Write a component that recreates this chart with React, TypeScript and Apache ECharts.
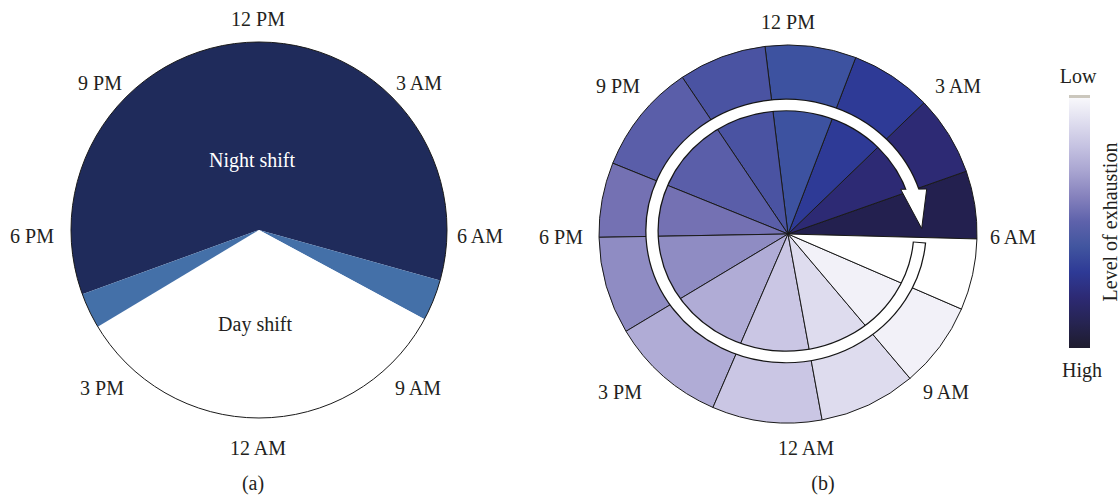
import React, { useEffect, useRef } from "react";
import * as echarts from "echarts";

// ---- Panel (a): shift pie (hours of a 24 h day) ----
const shiftNames = ["Night shift", "Transition (morning)", "Day shift", "Transition (evening)"];
const shiftHours = [14.37, 0.85, 8.05, 0.73];
const shiftColors = ["#1f2b5b", "#4470a8", "#ffffff", "#4470a8"];

// ---- Panel (b): exhaustion level sectors (angular span in degrees) ----
const sectorNames = ["S1", "S2", "S3", "S4", "S5", "S6", "S7", "S8", "S9", "S10", "S11", "S12", "S13"];
const sectorSpans = [20.9, 24.6, 25, 28, 27, 34, 23, 30, 35.6, 33.8, 29.8, 26.4, 21.9];
const sectorColors = [
  "#23204f", "#2d2a74", "#2e3a96", "#3d52a0", "#4a53a2", "#5a5ea9", "#7471b3",
  "#8f8cc3", "#b0acd6", "#cac6e4", "#dedcee", "#f2f1f8", "#ffffff",
];

// ---- Clock labels ----
const clockLabels = ["12 PM", "3 AM", "6 AM", "9 AM", "12 AM", "3 PM", "6 PM", "9 PM"];
const labelPosA: [number, number][] = [
  [258, 19], [419, 83], [480, 236], [418, 388], [258, 448], [102, 388], [32, 236], [100, 83],
];
const labelPosB: [number, number][] = [
  [788, 22], [958, 86], [1013, 237], [946, 392], [806, 448], [620, 392], [561, 237], [618, 86],
];

const legendStops = [
  [0, "#fbfbfd"], [0.08, "#e6e5f2"], [0.2, "#c6c3e2"], [0.3, "#a9a5d1"], [0.4, "#8682bd"],
  [0.5, "#5e62ab"], [0.6, "#41559f"], [0.7, "#2e3a96"], [0.8, "#2d2a74"], [0.9, "#262452"],
  [1, "#1e1c2e"],
];

const FONT_FAMILY = "'Liberation Serif', 'DejaVu Serif', serif";
const TXT = "#231f20";

export default function App() {
  const ref = useRef<HTMLDivElement>(null);

  useEffect(() => {
    document.body.style.margin = "0";
    if (!ref.current) return;
    const chart = echarts.init(ref.current, null, { renderer: "svg" });

    const text = (t: string, x: number, y: number, extra: any = {}) => ({
      type: "text",
      x,
      y,
      z: 100,
      silent: true,
      style: {
        text: t,
        font: `20px ${FONT_FAMILY}`,
        fill: TXT,
        textAlign: "center",
        textVerticalAlign: "middle",
        ...extra,
      },
    });

    // arrow geometry (panel b)
    const acx = 786, acy = 231, ar = 134, ascaleY = 0.94;
    const deg = Math.PI / 180;

    const graphics: any[] = [
      // outer circle of panel (a)
      {
        type: "circle",
        silent: true,
        shape: { cx: 259, cy: 230, r: 188 },
        style: { fill: null, stroke: "#1a1a1a", lineWidth: 1 },
        z: 10,
      },
      ...clockLabels.map((l, i) => text(l, labelPosA[i][0], labelPosA[i][1])),
      ...clockLabels.map((l, i) => text(l, labelPosB[i][0], labelPosB[i][1])),
      text("(a)", 253, 483),
      text("(b)", 823, 483),
      text("Night shift", 252, 160, { fill: "#ffffff" }),
      text("Day shift", 255, 324),
      // arrow: black outline arc
      {
        type: "group",
        x: acx,
        y: acy,
        scaleY: ascaleY,
        z: 20,
        silent: true,
        children: [
          {
            type: "arc",
            shape: { cx: 0, cy: 0, r: ar, startAngle: 5 * deg, endAngle: 341 * deg, clockwise: true },
            style: { fill: null, stroke: "#161616", lineWidth: 13.5 },
            z: 20,
          },
        ],
      },
      {
        type: "polygon",
        silent: true,
        z: 21,
        shape: { points: [[900.7, 189.3], [926.7, 189], [921.7, 228.5]] },
        style: { fill: "#ffffff", stroke: "#161616", lineWidth: 1, lineJoin: "miter" },
      },
      {
        type: "group",
        x: acx,
        y: acy,
        scaleY: ascaleY,
        z: 22,
        silent: true,
        children: [
          {
            type: "arc",
            shape: { cx: 0, cy: 0, r: ar, startAngle: 5.5 * deg, endAngle: 342.5 * deg, clockwise: true },
            style: { fill: null, stroke: "#ffffff", lineWidth: 11 },
            z: 22,
          },
        ],
      },
      // colour bar
      {
        type: "rect",
        silent: true,
        z: 10,
        shape: { x: 1069, y: 95, width: 21, height: 253 },
        style: {
          fill: {
            type: "linear",
            x: 0, y: 0, x2: 0, y2: 1,
            colorStops: legendStops.map(([o, c]) => ({ offset: o as number, color: c as string })),
          },
        },
      },
      {
        type: "rect",
        silent: true,
        z: 11,
        shape: { x: 1069, y: 95, width: 21, height: 3 },
        style: { fill: "#cbc7bd" },
      },
      text("Low", 1078, 76),
      text("High", 1082, 370),
      {
        type: "text",
        x: 1110,
        y: 222,
        z: 100,
        rotation: Math.PI / 2,
        silent: true,
        style: {
          text: "Level of exhaustion",
          font: `20px ${FONT_FAMILY}`,
          fill: TXT,
          textAlign: "center",
          textVerticalAlign: "middle",
        },
      },
    ];

    chart.setOption({
      animation: false,
      backgroundColor: "#ffffff",
      series: [
        {
          type: "pie",
          center: [259, 230],
          radius: [0, 188],
          startAngle: 200,
          clockwise: true,
          silent: true,
          label: { show: false },
          labelLine: { show: false },
          emphasis: { disabled: true },
          itemStyle: { borderWidth: 0 },
          data: shiftNames.map((n, i) => ({
            name: n,
            value: shiftHours[i],
            itemStyle: { color: shiftColors[i] },
          })),
        },
        {
          type: "pie",
          center: [788, 234],
          radius: [0, 189],
          startAngle: -1.5,
          clockwise: false,
          silent: true,
          label: { show: false },
          labelLine: { show: false },
          emphasis: { disabled: true },
          itemStyle: { borderColor: "#1a1a1a", borderWidth: 1 },
          data: sectorNames.map((n, i) => ({
            name: n,
            value: sectorSpans[i],
            itemStyle: { color: sectorColors[i] },
          })),
        },
      ],
      graphic: graphics,
    });

    return () => chart.dispose();
  }, []);

  return <div ref={ref} style={{ width: 1120, height: 495 }} />;
}
